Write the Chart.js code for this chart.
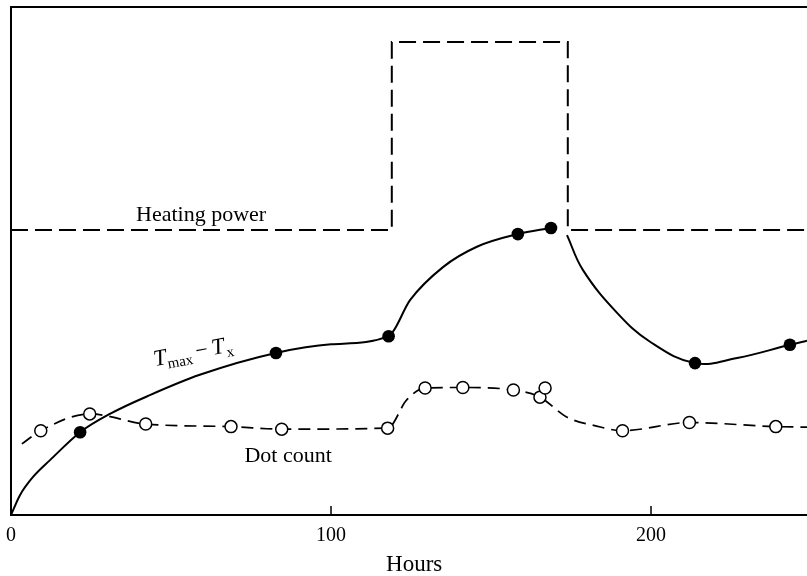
<!DOCTYPE html>
<html>
<head>
<meta charset="utf-8">
<script src="https://cdn.jsdelivr.net/npm/chart.js@4/dist/chart.umd.min.js"></script>
<style>
  html, body { margin: 0; padding: 0; background: #fff; overflow: hidden; }
  canvas { display: block; }
</style>
</head>
<body>
<canvas id="chart" width="807" height="576" style="width:807px;height:576px"></canvas>
<script>
// Axis ticks (hours)
const xTicks = [0, 100, 200];
const xMax = 248.75;

// Heating power (step levels, arbitrary units)
const heatHours = [0, 119, 174, 248.75];
const heatPower = [56.1, 93.1, 56.1, 56.1];

// Tmax - Tx, rising part while heating
const tRiseHours  = [0, 2.8, 6.9, 12.2, 21.6, 30.9, 43.4, 59, 82.8, 100, 118, 124.7, 135, 145.6, 158.4, 168.75];
const tRiseValues = [0, 3.9, 7.5, 10.8, 16.3, 19.9, 23.6, 27.6, 31.9, 33.6, 35.2, 42.3, 48.8, 52.8, 55.3, 56.5];
// Tmax - Tx, after the heating power drops
const tFallHours  = [173.75, 178.75, 189.4, 199.7, 213.75, 226.9, 243.4, 248.75];
const tFallValues = [55.1, 48.2, 39.8, 34.1, 29.9, 30.9, 33.5, 34.3];
// measured Tmax - Tx points (filled dots)
const tDotHours  = [21.6, 82.8, 118, 158.4, 168.75, 213.75, 243.4];
const tDotValues = [16.3, 31.9, 35.2, 55.3, 56.5, 29.9, 33.5];

// Dot count curve (dashed)
const countHours  = [3.4, 9.3, 24.6, 42.1, 68.75, 84.6, 117.7, 123.6, 129.4, 141.2, 157, 165.3, 173.6, 183, 191.1, 212, 239, 248.75];
const countValues = [14.0, 16.6, 19.9, 17.9, 17.4, 16.9, 17.1, 22.6, 25.0, 25.1, 24.6, 23.2, 19.3, 17.5, 16.6, 18.2, 17.4, 17.3];
// measured dot counts (open circles)
const countDotHours  = [9.3, 24.6, 42.1, 68.75, 84.6, 117.7, 129.4, 141.2, 157, 165.3, 166.9, 191.1, 212, 239];
const countDotValues = [16.6, 19.9, 17.9, 17.4, 16.9, 17.1, 25.0, 25.1, 24.6, 23.2, 25.0, 16.6, 18.2, 17.4];

const SERIF = '"Liberation Serif", "DejaVu Serif", serif';

function toPoints(xs, ys) {
    return xs.map((x, i) => ({ x: x, y: ys[i] }));
}

// Frame line on top, inward ticks and the text labels
const overlay = {
    id: 'overlay',
    afterDatasetsDraw(chart) {
        const ctx = chart.ctx;
        const a = chart.chartArea;
        const x = chart.scales.x;
        const y = chart.scales.y;
        ctx.save();
        ctx.strokeStyle = '#000';
        ctx.lineWidth = 2;
        ctx.beginPath();
        ctx.moveTo(a.left, a.top);
        ctx.lineTo(a.right, a.top);
        ctx.stroke();

        ctx.lineWidth = 1.5;
        xTicks.forEach(v => {
            if (v === 0) return;
            const px = x.getPixelForValue(v);
            ctx.beginPath();
            ctx.moveTo(px, a.bottom);
            ctx.lineTo(px, a.bottom - 9);
            ctx.stroke();
        });

        ctx.fillStyle = '#000';
        ctx.textAlign = 'center';
        ctx.textBaseline = 'alphabetic';
        ctx.font = '22px ' + SERIF;
        ctx.fillText('Heating power', x.getPixelForValue(59.4), y.getPixelForValue(57.9));
        ctx.fillText('Dot count', x.getPixelForValue(86.6), y.getPixelForValue(10.4));
        ctx.font = '23px ' + SERIF;
        ctx.fillText('Hours', x.getPixelForValue(126), a.bottom + 56);

        // Tmax − Tx, tilted along the curve
        ctx.translate(x.getPixelForValue(45), y.getPixelForValue(29.3));
        ctx.rotate(-11 * Math.PI / 180);
        ctx.textAlign = 'left';
        let cx = 0;
        const part = (t, font, dy) => {
            ctx.font = font;
            ctx.fillText(t, cx, dy);
            cx += ctx.measureText(t).width;
        };
        part('T', 'italic 23px ' + SERIF, 0);
        part('max', '15px ' + SERIF, 5);
        cx += 4;
        part('\u2212', '22px ' + SERIF, 0);
        cx += 4;
        part('T', 'italic 23px ' + SERIF, 0);
        cx += 1;
        part('x', '15px ' + SERIF, 5);
        ctx.restore();
    }
};

new Chart(document.getElementById('chart'), {
    type: 'line',
    data: {
        datasets: [
            {
                label: 'Tmax - Tx points',
                data: toPoints(tDotHours, tDotValues),
                showLine: false,
                pointRadius: 6.3,
                pointBackgroundColor: '#000',
                pointBorderColor: '#000',
                pointBorderWidth: 0
            },
            {
                label: 'Dot count points',
                data: toPoints(countDotHours, countDotValues),
                showLine: false,
                pointRadius: 6,
                pointBackgroundColor: '#fff',
                pointBorderColor: '#000',
                pointBorderWidth: 1.5
            },
            {
                label: 'Dot count',
                data: toPoints(countHours, countValues),
                borderColor: '#000',
                borderWidth: 1.7,
                borderDash: [12, 7],
                cubicInterpolationMode: 'monotone',
                pointRadius: 0
            },
            {
                label: 'Tmax - Tx',
                data: toPoints(tRiseHours, tRiseValues),
                borderColor: '#000',
                borderWidth: 2,
                cubicInterpolationMode: 'monotone',
                pointRadius: 0
            },
            {
                label: 'Tmax - Tx (after)',
                data: toPoints(tFallHours, tFallValues),
                borderColor: '#000',
                borderWidth: 2,
                tension: 0.4,
                pointRadius: 0
            },
            {
                label: 'Heating power',
                data: toPoints(heatHours, heatPower),
                borderColor: '#000',
                borderWidth: 2,
                borderDash: [17, 7],
                stepped: 'before',
                pointRadius: 0
            }
        ]
    },
    options: {
        responsive: false,
        animation: false,
        events: [],
        layout: { autoPadding: false, padding: { top: 7, right: 0, bottom: 0, left: 0 } },
        plugins: {
            legend: { display: false },
            tooltip: { enabled: false }
        },
        scales: {
            x: {
                type: 'linear',
                min: 0,
                max: xMax,
                grid: { display: false, drawTicks: false },
                border: { display: true, color: '#000', width: 2 },
                afterBuildTicks: scale => {
                    scale.ticks = xTicks.map(v => ({ value: v }));
                },
                afterFit: scale => {
                    scale.height = 61;
                    scale.paddingLeft = 0;
                    scale.paddingRight = 0;
                },
                ticks: {
                    color: '#000',
                    padding: 9,
                    maxRotation: 0,
                    autoSkip: false,
                    font: { family: SERIF, size: 20 }
                }
            },
            y: {
                type: 'linear',
                min: 0,
                max: 100,
                grid: { display: false, drawTicks: false },
                border: { display: true, color: '#000', width: 2 },
                ticks: { display: false },
                afterFit: scale => {
                    scale.width = 11;
                    scale.paddingTop = 0;
                    scale.paddingBottom = 0;
                }
            }
        }
    },
    plugins: [overlay]
});
</script>
</body>
</html>
